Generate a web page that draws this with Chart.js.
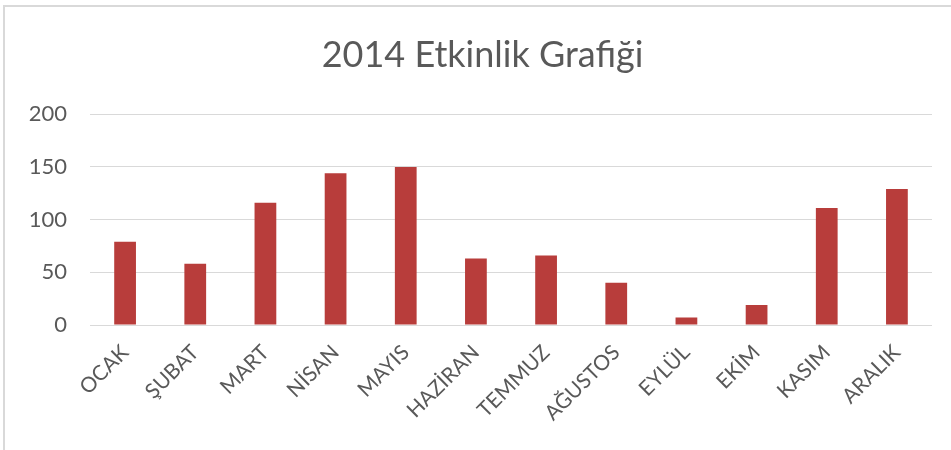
<!DOCTYPE html>
<html>
<head>
<meta charset="utf-8">
<script src="https://cdn.jsdelivr.net/npm/chart.js@4"></script>
<style>
  html, body { margin: 0; padding: 0; background: #fff; overflow: hidden; }
  #frame { position: absolute; left: 3px; top: 5px; width: 1000px; height: 500px; border: 2px solid #d9d9d9; }
  #wrap { position: absolute; left: 0; top: 0; width: 965px; height: 450px; }
</style>
</head>
<body>
<div id="frame"></div>
<div id="wrap"><canvas id="chart"></canvas></div>
<script>
  const months = ['OCAK', 'ŞUBAT', 'MART', 'NİSAN', 'MAYIS', 'HAZİRAN', 'TEMMUZ', 'AĞUSTOS', 'EYLÜL', 'EKİM', 'KASIM', 'ARALIK'];
  const counts = [79, 58, 116, 144, 150, 63, 66, 40, 7, 19, 111, 129];
  const yTicks = [0, 50, 100, 150, 200];

  const textColor = '#595959';
  const gridColor = '#d9d9d9';

  new Chart(document.getElementById('chart'), {
    type: 'bar',
    data: {
      labels: months,
      datasets: [{
        label: '2014',
        data: counts,
        backgroundColor: '#b83d3b',
        borderWidth: 0,
        barPercentage: 0.31,
        categoryPercentage: 1
      }]
    },
    options: {
      responsive: true,
      maintainAspectRatio: false,
      animation: false,
      layout: { padding: 0 },
      plugins: {
        legend: { display: false },
        tooltip: { enabled: false },
        title: {
          display: true,
          text: '2014 Etkinlik Grafiği',
          color: textColor,
          font: { family: 'Lato', size: 36, weight: 'normal' },
          padding: { top: 34, bottom: 37 }
        }
      },
      scales: {
        y: {
          min: yTicks[0],
          max: yTicks[yTicks.length - 1],
          afterBuildTicks: s => { s.ticks = yTicks.map(v => ({ value: v })); },
          afterFit: s => { s.width = 90; },
          border: { display: false },
          grid: { color: gridColor, lineWidth: 1, drawTicks: false },
          ticks: { color: textColor, font: { family: 'Lato', size: 22 }, padding: 23 }
        },
        // empty right gutter so the title centres like the original
        spacer: {
          position: 'right',
          display: true,
          afterFit: s => { s.width = 33; },
          border: { display: false },
          grid: { display: false, drawTicks: false },
          ticks: { display: false }
        },
        x: {
          afterFit: s => { s.height = 125; },
          border: { display: false },
          grid: { display: false, drawTicks: false },
          ticks: {
            color: textColor,
            font: { family: 'Lato', size: 21 },
            minRotation: 45,
            maxRotation: 45,
            autoSkip: false,
            padding: 15
          }
        }
      }
    }
  });
</script>
</body>
</html>
